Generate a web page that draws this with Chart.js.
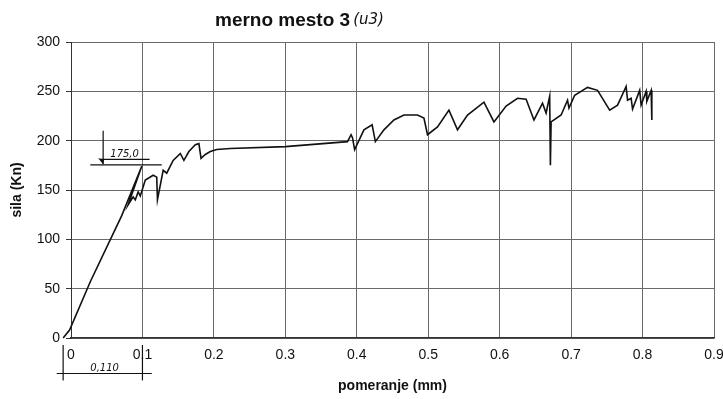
<!DOCTYPE html>
<html>
<head>
<meta charset="utf-8">
<script src="https://cdn.jsdelivr.net/npm/chart.js@4.4.1/dist/chart.umd.min.js"></script>
<style>
  html, body { margin: 0; padding: 0; background: #fff; }
  #wrap { width: 723px; height: 399px; }
</style>
</head>
<body>
<div id="wrap"><canvas id="c" width="723" height="399"></canvas></div>
<script>
// pomeranje (mm) / sila (kN)
const displacement = [
  -0.011, -0.002, 0.027, 0.071, 0.099, 0.080, 0.087, 0.090, 0.094, 0.097,
  0.104, 0.115, 0.120, 0.121, 0.129, 0.134, 0.143, 0.153, 0.158, 0.165,
  0.174, 0.179, 0.182, 0.188, 0.195, 0.204, 0.223, 0.300, 0.387, 0.392,
  0.394, 0.397, 0.410, 0.4215, 0.426, 0.438, 0.452, 0.466, 0.485, 0.494,
  0.499, 0.513, 0.529, 0.541, 0.555, 0.578, 0.592, 0.609, 0.625, 0.637,
  0.648, 0.660, 0.665, 0.670, 0.671, 0.672, 0.686, 0.695, 0.697, 0.705,
  0.723, 0.737, 0.754, 0.765, 0.777, 0.779, 0.784, 0.786, 0.796, 0.798,
  0.805, 0.806, 0.812, 0.813
];
const force = [
  0, 8, 57, 124, 174, 135, 143, 140, 148, 144,
  160, 165, 163, 140, 170, 167, 180, 187, 180, 189,
  196, 197, 182, 186, 189, 191, 192, 194, 199, 206,
  203, 191, 211, 216, 199, 211, 221, 226, 226, 223,
  206, 214, 231, 211, 226, 239, 219, 235, 243, 242,
  221, 238, 228, 245, 175, 219, 226, 241, 233, 246,
  254, 251, 231, 236, 255, 241, 243, 232, 251, 236,
  250, 240, 251, 221
];
const xTickLabels = ['0', '0.1', '0.2', '0.3', '0.4', '0.5', '0.6', '0.7', '0.8', '0.9'];
const yTicks = [0, 50, 100, 150, 200, 250, 300];

const points = displacement.map((x, i) => ({ x: x, y: force[i] }));

// hand drawn marks on the scan: the 175,0 level and the 0,110 dimension
const handNotes = {
  id: 'handNotes',
  afterDatasetsDraw(chart) {
    const { ctx, scales: { x, y } } = chart;
    const line = (x1, y1, x2, y2) => {
      ctx.beginPath();
      ctx.moveTo(x.getPixelForValue(x1), y.getPixelForValue(y1));
      ctx.lineTo(x.getPixelForValue(x2), y.getPixelForValue(y2));
      ctx.stroke();
    };
    ctx.save();
    ctx.strokeStyle = '#111';
    ctx.fillStyle = '#111';
    ctx.lineWidth = 1.2;
    line(0.027, 175.5, 0.127, 175.5);
    line(0.042, 181, 0.11, 181);
    line(0.045, 210, 0.045, 176);
    // arrow head
    const ax = x.getPixelForValue(0.045), ay = y.getPixelForValue(176);
    ctx.beginPath();
    ctx.moveTo(ax, ay);
    ctx.lineTo(ax - 5, ay - 6);
    ctx.lineTo(ax + 1, ay - 5);
    ctx.closePath();
    ctx.fill();
    ctx.font = 'italic 10px "DejaVu Sans"';
    ctx.textAlign = 'center';
    ctx.fillText('175,0', x.getPixelForValue(0.075), y.getPixelForValue(183));
    // dimension below the axis
    line(-0.011, -7, -0.011, -43);
    line(0.1, -7, 0.1, -43);
    line(-0.02, -36, 0.113, -36);
    ctx.fillText('0,110', x.getPixelForValue(0.047), y.getPixelForValue(-33));
    ctx.restore();
  }
};

const heading = {
  id: 'heading',
  afterDraw(chart) {
    const { ctx } = chart;
    ctx.save();
    ctx.fillStyle = '#111';
    ctx.textBaseline = 'middle';
    ctx.font = 'bold 19px "Liberation Sans"';
    const t = 'merno mesto 3';
    const w = ctx.measureText(t).width;
    ctx.fillText(t, 215, 21);
    ctx.font = 'italic 15px "DejaVu Sans"';
    ctx.fillText('(u3)', 215 + w + 3, 20);
    ctx.restore();
  }
};

new Chart(document.getElementById('c'), {
  type: 'line',
  data: {
    datasets: [{
      data: points,
      borderColor: '#111',
      borderWidth: 1.6,
      pointRadius: 0,
      tension: 0,
      fill: false,
      clip: false
    }]
  },
  options: {
    responsive: false,
    animation: false,
    layout: { padding: { top: 42, right: 0, left: 0, bottom: 0 } },
    plugins: {
      legend: { display: false },
      tooltip: { enabled: false }
    },
    scales: {
      x: {
        type: 'linear',
        min: 0,
        max: 0.9,
        afterFit(scale) {
          scale.height = 61;
          scale.paddingRight = 9;
          scale.paddingLeft = 0;
        },
        afterBuildTicks(scale) {
          scale.ticks = xTickLabels.map(v => ({ value: parseFloat(v) }));
        },
        ticks: {
          color: '#111',
          padding: 9,
          maxRotation: 0,
          font: { family: '"Liberation Sans"', size: 14 },
          callback: (v, i) => xTickLabels[i]
        },
        grid: { color: '#6a6a6a', lineWidth: 1, drawTicks: false },
        border: { color: '#333', width: 1.5 },
        title: {
          display: true,
          text: 'pomeranje (mm)',
          color: '#111',
          font: { family: '"Liberation Sans"', size: 14, weight: 'bold' },
          padding: { top: 4, bottom: 4 }
        }
      },
      y: {
        type: 'linear',
        min: 0,
        max: 300,
        afterFit(scale) { scale.width = 71; },
        afterBuildTicks(scale) {
          scale.ticks = yTicks.map(v => ({ value: v }));
        },
        ticks: {
          color: '#111',
          padding: 6,
          font: { family: '"Liberation Sans"', size: 14 }
        },
        grid: { color: '#6a6a6a', lineWidth: 1, drawTicks: true, tickLength: 5, tickColor: '#333' },
        border: { color: '#333', width: 1 },
        title: {
          display: true,
          text: 'sila (Kn)',
          color: '#111',
          font: { family: '"Liberation Sans"', size: 14, weight: 'bold' },
          padding: { top: 9, bottom: 0 }
        }
      }
    }
  },
  plugins: [handNotes, heading]
});
</script>
</body>
</html>
